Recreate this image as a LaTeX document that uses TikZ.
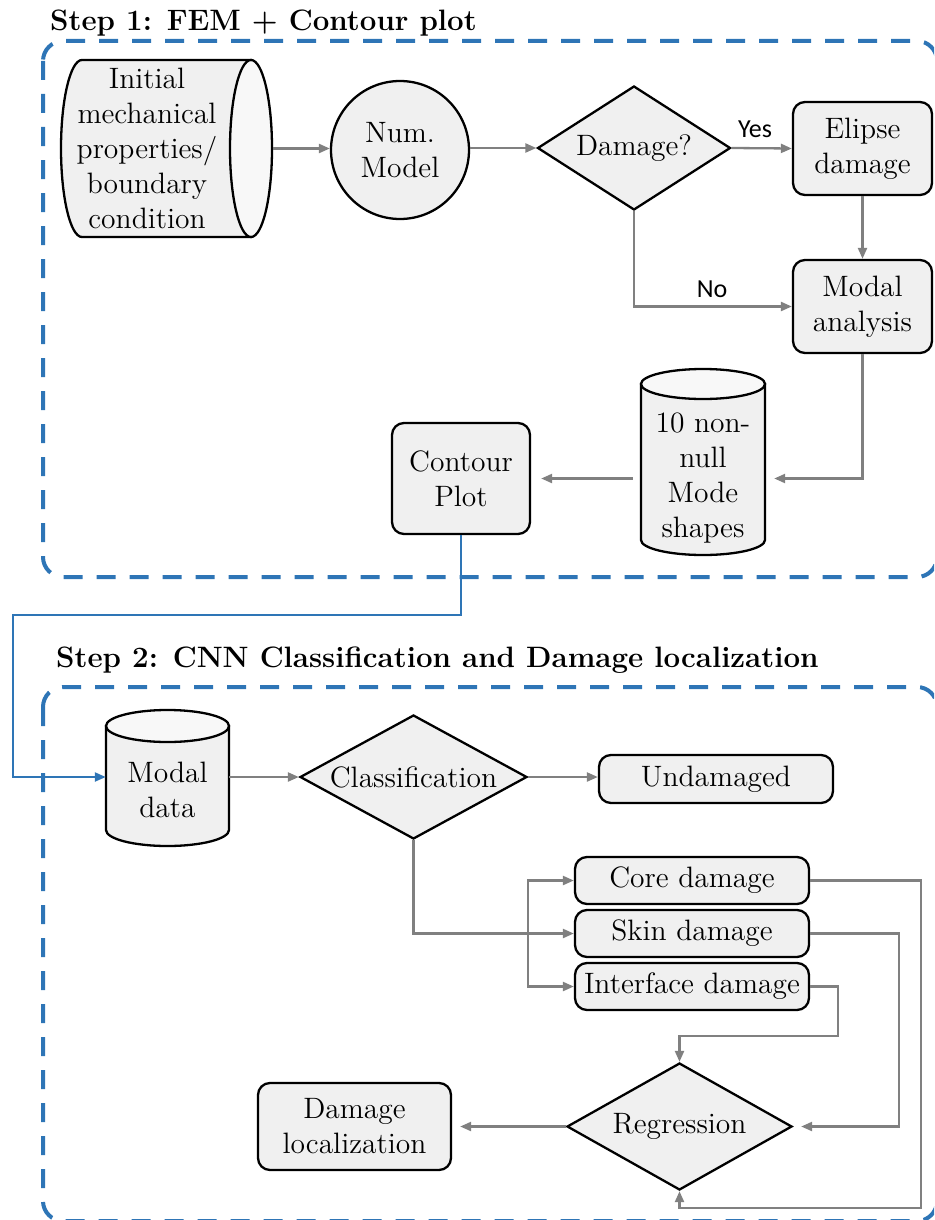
\documentclass[tikz,border=0pt]{standalone}
\usepackage{fontspec}
\setmainfont{lmroman12-regular.otf}[BoldFont=lmroman12-bold.otf]
\newfontfamily\yesnofont{Carlito}
\usetikzlibrary{shapes.geometric,arrows.meta}
\definecolor{nodefill}{RGB}{240,240,240}
\definecolor{capfill}{RGB}{248,248,248}
\definecolor{arrgray}{RGB}{128,128,128}
\definecolor{stepblue}{RGB}{46,117,182}
\newcommand\nf{\fontsize{29.5}{35}\selectfont}
\tikzset{
  frame/.style={stepblue, line width=4pt, dash pattern=on 19pt off 14pt, rounded corners=20pt},
  rbox/.style={draw=black, line width=2.3pt, fill=nodefill, rounded corners=12pt, align=center, inner sep=0pt, font=\nf},
  dia/.style={diamond, draw=black, line width=2.3pt, fill=nodefill, inner sep=0pt, align=center, font=\nf},
  cyl/.style={draw=black, line width=2.3pt, fill=nodefill},
  cylcap/.style={draw=black, line width=2.3pt, fill=capfill},
  txt/.style={align=center, inner sep=0pt, font=\nf},
  ghost/.style={inner sep=0pt},
  arr/.style={draw=arrgray, line width=2.3pt, -{Triangle[length=11pt,width=9pt]}},
  bluearr/.style={draw=stepblue, line width=2.2pt, -{Triangle[length=11pt,width=9pt]}},
  yn/.style={font=\yesnofont\fontsize{26}{30}\selectfont, inner sep=0pt, anchor=base}
}
\begin{document}
\begin{tikzpicture}[x=1pt,y=1pt]
\useasboundingbox (0,0) rectangle (934,-1220);
\clip (0,0) rectangle (934,-1220);

% frames
\draw[frame] (43,-41) rectangle (937,-577);
\draw[frame] (43,-687) rectangle (937,-1221);

% titles
\node[anchor=base west, inner sep=0pt, font=\nf\bfseries] (title1) at (50,-31) {Step 1: FEM + Contour plot};
\node[anchor=base west, inner sep=0pt, font=\nf\bfseries] (title2) at (56,-667) {Step 2: CNN Classification and Damage localization};

% ---------- Step 1 ----------
% horizontal cylinder
\path[cyl] (251,-60) -- (82,-60) arc[start angle=90, end angle=270, x radius=21, y radius=88.5] -- (251,-237) -- cycle;
\path[cylcap] (251,-148.5) ellipse[x radius=21, y radius=88.5];
\node[ghost, minimum width=212pt, minimum height=177pt] (init) at (167,-148.5) {};
\node[txt] (inittext) at (147,-148) {Initial\\mechanical\\properties/\\boundary\\condition};

\node[circle, draw=black, line width=2.3pt, fill=nodefill, minimum size=138pt, inner sep=0pt, align=center, font=\nf] (num) at (400,-150) {Num.\\Model};
\node[dia, aspect=1.556, minimum width=193pt, minimum height=124pt] (dmg) at (634,-148) {Damage?};
\node[rbox, minimum width=139pt, minimum height=93pt] (elipse) at (862.5,-148.5) {Elipse\\damage};
\node[rbox, minimum width=139pt, minimum height=93pt] (modal) at (862.5,-306.5) {Modal\\analysis};

% vertical cylinder
\path[cyl] (641,-384) -- (641,-540) arc[start angle=180, end angle=360, x radius=62, y radius=15] -- (765,-384) -- cycle;
\path[cylcap] (703,-384) ellipse[x radius=62, y radius=15];
\node[ghost, minimum width=124pt, minimum height=186pt] (modes) at (703,-462) {};
\node[txt] (modestext) at (703,-478) {10 non-\\null\\Mode\\shapes};

\node[rbox, minimum width=138pt, minimum height=111pt] (contour) at (461,-478.5) {Contour\\Plot};

\draw[arr] (init.east) -- (init.east -| num.west);
\draw[arr] (num.east |- dmg.west) -- (dmg.west);
\draw[arr] (dmg.east) -- (elipse.west);
\node[yn] (yes) at (755,-137) {Yes};
\draw[arr] (elipse.south) -- (modal.north);
\draw[arr] (dmg.south) |- (modal.west);
\node[yn] (no) at (712,-297) {No};
\draw[arr, shorten >=9pt] (modal.south) |- (modes.east |- contour.center);
\draw[arr, shorten <=8pt, shorten >=10pt] (modes.west |- contour.center) -- (contour.east);

% ---------- Step 2 ----------
\path[cyl] (106,-726) -- (106,-830) arc[start angle=180, end angle=360, x radius=61.5, y radius=16] -- (229,-726) -- cycle;
\path[cylcap] (167.5,-726) ellipse[x radius=61.5, y radius=16];
\node[ghost, minimum width=123pt, minimum height=136pt] (mdata) at (167.5,-777) {};
\node[txt] (mdatatext) at (167.5,-790) {Modal\\data};

\coordinate (c1) at (13,-615);
\draw[bluearr] (contour.south) |- (c1) |- (mdata.west);

\node[dia, aspect=1.83, minimum width=227pt, minimum height=124pt] (cls) at (413.5,-777) {Classification};
\node[rbox, minimum width=234pt, minimum height=48pt] (undam) at (716,-779) {Undamaged};
\node[rbox, minimum width=234pt, minimum height=47pt] (core) at (692,-880.5) {Core damage};
\node[rbox, minimum width=234pt, minimum height=47pt] (skin) at (692,-933.5) {Skin damage};
\node[rbox, minimum width=234pt, minimum height=47pt] (iface) at (692,-986.5) {Interface damage};
\node[dia, aspect=1.77, minimum width=225pt, minimum height=127pt] (reg) at (679.5,-1126.5) {Regression};
\node[rbox, minimum width=193pt, minimum height=87pt] (dloc) at (354.5,-1126.5) {Damage\\localization};

\draw[arr] (mdata.east) -- (cls.west);
\draw[arr] (cls.east) -- (cls.east -| undam.west);
\draw[arr] (cls.south) |- (skin.west);
\coordinate (br) at (528,-933.5);
\draw[arr] (br) |- (core.west);
\draw[arr] (br) |- (iface.west);

\coordinate (cr) at (921,-1208);
\draw[arr] (core.east) -| (cr) -| (reg.south);
\coordinate (sk) at (899,-1126.5);
\draw[arr, shorten >=8pt] (skin.east) -| (sk) -- (reg.east);
\coordinate (ic) at (838,-1036);
\draw[arr] (iface.east) -| (ic) -| (reg.north);
\draw[arr, shorten >=8pt] (reg.west) -- (dloc.east);
\end{tikzpicture}
\end{document}
